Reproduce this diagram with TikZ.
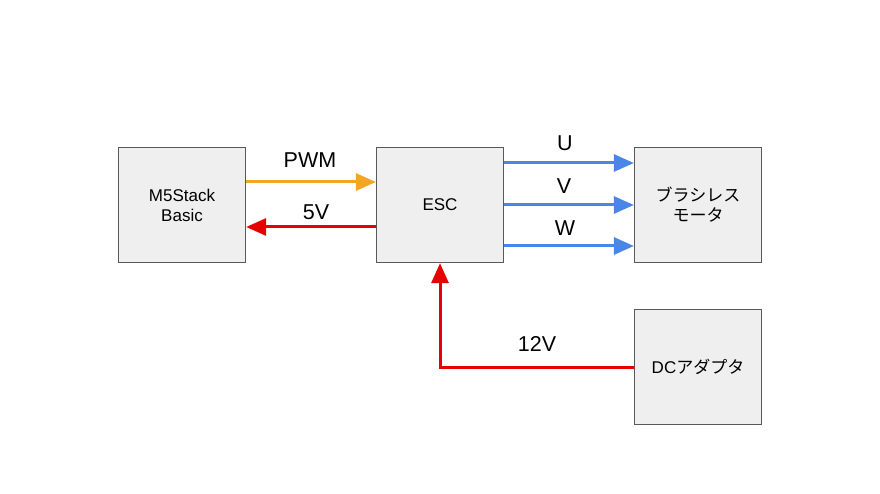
\documentclass[tikz,border=0pt]{standalone}
\usepackage{fontspec}
\setmainfont{Liberation Sans}
\newfontfamily\jpfont{Noto Sans CJK JP}
\usetikzlibrary{arrows.meta}
\definecolor{boxfill}{RGB}{239,239,239}
\definecolor{boxline}{RGB}{89,89,89}
\definecolor{pwmorange}{RGB}{243,165,35}
\definecolor{pwrred}{RGB}{230,0,0}
\definecolor{phaseblue}{RGB}{74,134,232}

\begin{document}
\begin{tikzpicture}[x=1pt,y=-1pt,
  block/.style={draw=boxline,fill=boxfill,line width=1.3pt,minimum width=127pt,minimum height=115pt,align=center,font=\fontsize{17}{20}\selectfont},
  lbl/.style={font=\fontsize{21.5}{25}\selectfont},
  wire/.style={line width=3pt,-{Triangle[length=20pt,width=17pt]}}]
\useasboundingbox (0,0) rectangle (880,494);
\node [block] (m5) at (182,205) {M5Stack\\Basic};
\node [block] (esc) at (440,205) {ESC};
\node [block] (motor) at (698,205) {\jpfont ブラシレス\\\jpfont モータ};
\node [block] (dc) at (698,367) {DC\jpfont アダプタ};
\draw [wire,pwmorange] ([yshift=23pt]m5.east) -- ([yshift=23pt]esc.west);
\draw [wire,pwrred] ([yshift=-22pt]esc.west) -- ([yshift=-22pt]m5.east);
\draw [wire,phaseblue] ([yshift=42pt]esc.east) -- ([yshift=42pt]motor.west);
\draw [wire,phaseblue] (esc.east) -- (motor.west);
\draw [wire,phaseblue] ([yshift=-41pt]esc.east) -- ([yshift=-41pt]motor.west);
\draw [wire,pwrred] (dc.west) -| (esc.south);
\node [lbl] (pwm) at (310,160) {PWM};
\node [lbl] (fivev) at (316,212) {5V};
\node [lbl] (u) at (565,143) {U};
\node [lbl] (v) at (564,186) {V};
\node [lbl] (w) at (565,228) {W};
\node [lbl] (twelvev) at (537,344) {12V};
\end{tikzpicture}
\end{document}
